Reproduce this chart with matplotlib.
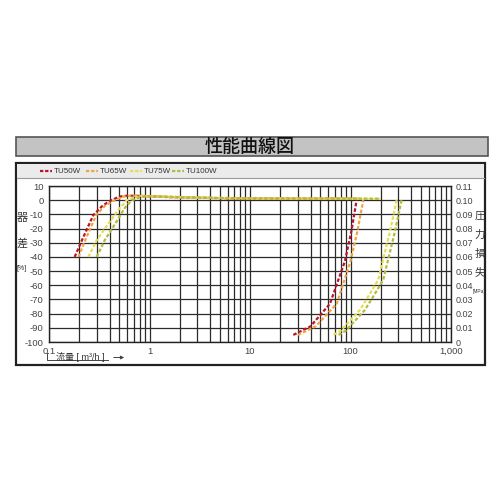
import numpy as np
import matplotlib
matplotlib.use("Agg")
import matplotlib.pyplot as plt
from matplotlib.patches import Rectangle
from matplotlib.lines import Line2D

plt.rcParams['font.family'] = ['Liberation Sans Narrow', 'Liberation Sans', 'Noto Sans CJK JP', 'DejaVu Sans']

# series names and colours
models = ["TU50W", "TU65W", "TU75W", "TU100W"]
colors = ["#b8152c", "#f0a445", "#e6de52", "#b4bc3c"]

# instrument error [%] vs flow [m3/h] (left axis)
err_flow_50 = [0.18, 0.223, 0.276, 0.34, 0.40, 0.5, 0.6, 0.8, 1.5, 6, 30, 120]
err_50 = [-40, -25, -10.5, -4, -0.7, 2.5, 3.2, 3.0, 2.2, 1.3, 1.1, 1.0]
err_flow_65 = [0.196, 0.24, 0.295, 0.36, 0.43, 0.55, 0.66, 0.85, 1.6, 6, 30, 130]
err_65 = [-40, -25, -10.5, -4, -0.7, 2.5, 3.2, 3.0, 2.2, 1.3, 1.1, 1.0]
err_flow_75 = [0.246, 0.30, 0.404, 0.5, 0.595, 0.7, 0.85, 1.2, 3, 10, 50, 200]
err_75 = [-40, -28, -15, -6, 0, 2, 3, 2.6, 1.8, 1.3, 1.1, 1.0]
err_flow_100 = [0.298, 0.36, 0.471, 0.56, 0.666, 0.8, 0.95, 1.3, 3, 10, 50, 200]
err_100 = [-40, -28, -15, -6, 0, 2, 3, 2.6, 1.8, 1.3, 1.1, 1.0]

# pressure loss [MPa] vs flow [m3/h] (right axis)
pl_flow_50 = [27, 40, 62.5, 88, 102, 115]
pl_50 = [0.005, 0.011, 0.027, 0.057, 0.078, 0.10]
pl_flow_65 = [30, 45, 73, 100, 117, 134]
pl_65 = [0.005, 0.011, 0.027, 0.057, 0.078, 0.10]
pl_flow_75 = [68, 80, 124, 156, 189, 247, 288]
pl_75 = [0.005, 0.008, 0.0226, 0.034, 0.044, 0.078, 0.10]
pl_flow_100 = [76, 90, 139, 175, 212, 277, 322]
pl_100 = [0.005, 0.008, 0.0226, 0.034, 0.044, 0.078, 0.10]

err_sets = [(err_flow_50, err_50), (err_flow_65, err_65),
            (err_flow_75, err_75), (err_flow_100, err_100)]
pl_sets = [(pl_flow_50, pl_50), (pl_flow_65, pl_65),
           (pl_flow_75, pl_75), (pl_flow_100, pl_100)]

x_ticks = [0.1, 1, 10, 100, 1000]
x_labels = ["0.1", "1", "10", "100", "1,000"]
y_ticks = list(range(-100, 11, 10))
y2_ticks = [i / 100 for i in range(0, 12)]
y2_labels = ["0"] + ["%.2f" % v for v in y2_ticks[1:]]

W, H = 500, 500
fig = plt.figure(figsize=(5, 5), dpi=100)


def fx(px):
    return px / W


def fy(py):
    return 1 - py / H


# title bar
fig.patches.append(Rectangle((fx(16), fy(156)), fx(472), 19 / H, transform=fig.transFigure,
                             facecolor="#c3c3c3", edgecolor="#555555", lw=1.2, zorder=-2))
fig.text(fx(250), fy(146.5), "性能曲線図", ha="center", va="center", fontsize=13,
         color="#111111", family=['Noto Sans CJK JP'], weight="medium")

# chart frame and legend strip
fig.patches.append(Rectangle((fx(16), fy(365)), fx(469), 202 / H, transform=fig.transFigure,
                             facecolor="white", edgecolor="#222222", lw=1.6, zorder=-2))
fig.patches.append(Rectangle((fx(17), fy(178)), fx(467), 14 / H, transform=fig.transFigure,
                             facecolor="#ebebeb", edgecolor="none", zorder=-1))
fig.lines.append(Line2D([fx(17), fx(484)], [fy(178), fy(178)], transform=fig.transFigure,
                        color="#9a9a9a", lw=0.8))

# legend
lx = [40, 86, 130, 172]
for x0, name, c in zip(lx, models, colors):
    fig.lines.append(Line2D([fx(x0), fx(x0 + 12)], [fy(171), fy(171)], transform=fig.transFigure,
                            color=c, lw=1.6, ls=(0, (1.5, 0.8))))
    fig.text(fx(x0 + 14), fy(171), name, ha="left", va="center", fontsize=5.8,
             color="#333333")

ax = fig.add_axes([fx(49), fy(342), fx(402), 156 / H])
ax.set_zorder(2)
ax.set_xscale("log")
ax.set_xlim(0.1, 1000)
ax.set_ylim(-100, 10)
ax.set_yticks(y_ticks)
ax.set_yticklabels([str(v) for v in y_ticks])
ax.set_xticks(x_ticks)
ax.set_xticklabels(x_labels)
ax.xaxis.set_minor_locator(matplotlib.ticker.LogLocator(base=10, subs=np.arange(2, 10)))
ax.xaxis.set_minor_formatter(matplotlib.ticker.NullFormatter())
ax.grid(True, which="both", axis="x", color="#2b2b2b", lw=0.9)
ax.grid(True, which="major", axis="y", color="#2b2b2b", lw=0.9)
ax.tick_params(which="both", length=0, labelsize=6.8, labelcolor="#444444")
ax.tick_params(axis="x", pad=3.5)
ax.tick_params(axis="y", pad=4)
for s in ax.spines.values():
    s.set_color("#222222")
    s.set_linewidth(1.0)

for (fl, ev), c in zip(err_sets, colors):
    ax.plot(fl, ev, color=c, lw=1.6, ls=(0, (1.6, 0.9)), zorder=3)

ax2 = ax.twinx()
ax2.set_zorder(3)
ax2.set_ylim(0, 0.11)
ax2.set_yticks(y2_ticks)
ax2.set_yticklabels(y2_labels)
ax2.tick_params(length=0, labelsize=6.5, labelcolor="#444444", pad=3)
for s in ax2.spines.values():
    s.set_visible(False)
for (fl, pv), c in zip(pl_sets, colors):
    ax2.plot(fl, pv, color=c, lw=1.6, ls=(0, (1.6, 0.9)), zorder=3)

# axis titles
fig.text(fx(22), fy(218), "器", ha="center", va="center", fontsize=8, color="#333333")
fig.text(fx(22), fy(243), "差", ha="center", va="center", fontsize=8, color="#333333")
fig.text(fx(22), fy(268), "[%]", ha="center", va="center", fontsize=5, color="#333333")
for ch, yy in zip("圧力損失", [216, 235, 254, 272]):
    fig.text(fx(479.5), fy(yy), ch, ha="center", va="center", fontsize=7.5, color="#333333")
fig.text(fx(479), fy(291), "[MPa]", ha="center", va="center", fontsize=3.5, color="#333333")

fig.text(fx(56), fy(357.5), "流量 [ m³/h ]", ha="left", va="center", fontsize=6.5, color="#333333")
fig.lines.append(Line2D([fx(47), fx(47), fx(108)], [fy(353), fy(360), fy(360)],
                        transform=fig.transFigure, color="#444444", lw=0.7))
ax.annotate("", xy=(fx(127), fy(357.5)), xytext=(fx(111), fy(357.5)), xycoords="figure fraction",
            arrowprops=dict(arrowstyle="-|>", color="#444444", lw=0.7, mutation_scale=5))

fig.savefig("out.png", dpi=100)
